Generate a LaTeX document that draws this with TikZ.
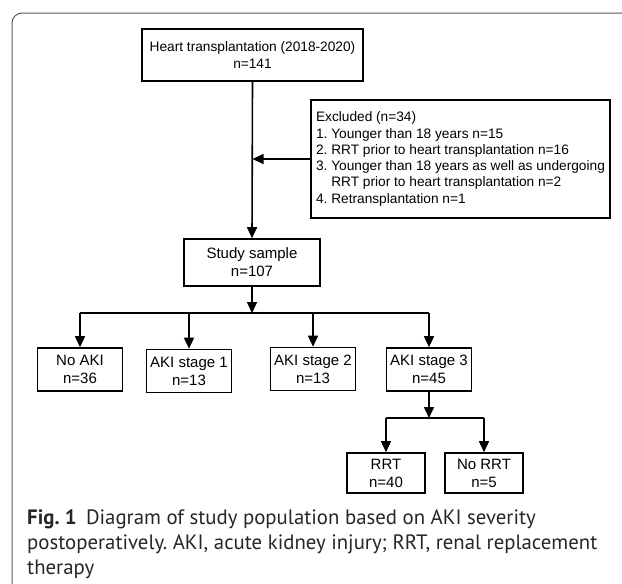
\documentclass[tikz,border=0pt]{standalone}
\usepackage{fontspec}
\setmainfont{Liberation Sans}
\newfontfamily\capfont{PT Sans}
\usetikzlibrary{positioning, arrows.meta}
\frenchspacing

\begin{document}
\begin{tikzpicture}[x=1pt, y=-1pt,
  box/.style={draw, line width=1.6pt, align=center, inner sep=0pt, font=\fontsize{15}{18}\selectfont},
  stage/.style={box, minimum width=85pt, minimum height=43pt},
  leaf/.style={box, minimum width=78pt, minimum height=40pt},
  link/.style={line width=1.6pt},
  arr/.style={line width=1.6pt, -{Triangle[length=11pt, width=10pt]}}]

\useasboundingbox (0,0) rectangle (622,584);

% Frame
\draw[black!65, line width=1pt, rounded corners=10pt] (12,584) -- (12,13) -- (622,13);

% Enrolment and exclusions
\node[box, minimum width=221pt, minimum height=52pt, font=\fontsize{13.7}{17}\selectfont] (heart) at (252.5,55) {Heart transplantation (2018-2020)\\n=141};
\node[box, align=left, minimum width=299pt, minimum height=118pt, font=\fontsize{13.7}{16.3}\selectfont] (excl) at (460.5,159) {Excluded (n=34)\\
1. Younger than 18 years n=15\\
2. RRT prior to heart transplantation n=16\\
3. Younger than 18 years as well as undergoing\\
\phantom{3. }RRT prior to heart transplantation n=2\\
4. Retransplantation n=1};
\node[box, minimum width=136pt, minimum height=47pt] (study) at (252,262.5) {Study sample\\n=107};
\coordinate (mid) at (heart.south |- excl.west);
\draw[arr] (heart.south) -- (study.north);
\draw[arr] (excl.west) -- (mid);

% AKI stages
\coordinate (split) at (252,313);
\node[stage] (noaki) at (80,369.5) {No AKI\\n=36};
\node[stage] (aki1) at (189,371) {AKI stage 1\\n=13};
\node[stage] (aki2) at (313,369) {AKI stage 2\\n=13};
\node[stage] (aki3) at (429,369.5) {AKI stage 3\\n=45};
\draw[arr] (study.south) -- (split);
\draw[link] (noaki.north |- split) -- (aki3.north |- split);
\foreach \n in {noaki, aki1, aki2, aki3}
  \draw[arr] (\n.north |- split) -- (\n.north);

% Replacement therapy
\coordinate (split2) at (429,418);
\node[leaf] (rrt) at (386,473) {RRT\\n=40};
\node[leaf] (norrt) at (484,473) {No RRT\\n=5};
\draw[arr] (aki3.south) -- (split2);
\draw[link] (rrt.north |- split2) -- (norrt.north |- split2);
\foreach \n in {rrt, norrt}
  \draw[arr] (\n.north |- split2) -- (\n.north);

% Caption
\node[anchor=north west, inner sep=0pt, align=left, text=black!85, font=\capfont\fontsize{20.8}{25}\selectfont] (caption) at (27,509) {\textbf{Fig. 1}\hspace{0.45em}Diagram of study population based on AKI severity\\postoperatively. AKI, acute kidney injury; RRT, renal replacement\\therapy};
\end{tikzpicture}
\end{document}
